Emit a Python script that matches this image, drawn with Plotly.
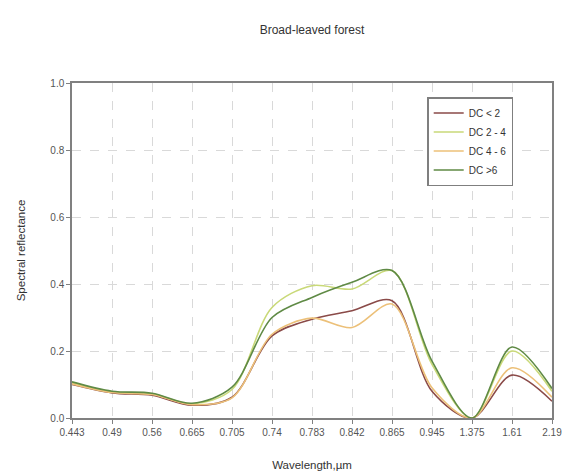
import plotly.graph_objects as go

wavelengths = ["0.443", "0.49", "0.56", "0.665", "0.705", "0.74", "0.783", "0.842", "0.865", "0.945", "1.375", "1.61", "2.19"]
dc_lt2 = [0.100, 0.075, 0.068, 0.038, 0.062, 0.245, 0.295, 0.320, 0.350, 0.080, 0.0, 0.128, 0.050]
dc_2_4 = [0.105, 0.078, 0.072, 0.042, 0.085, 0.330, 0.395, 0.385, 0.440, 0.160, 0.0, 0.200, 0.080]
dc_4_6 = [0.102, 0.076, 0.070, 0.040, 0.060, 0.250, 0.298, 0.270, 0.340, 0.090, 0.0, 0.150, 0.062]
dc_gt6 = [0.108, 0.080, 0.074, 0.044, 0.092, 0.300, 0.360, 0.405, 0.440, 0.170, 0.0, 0.212, 0.088]

series_names = ["DC < 2", "DC 2 - 4", "DC 4 - 6", "DC >6"]
series_values = [dc_lt2, dc_2_4, dc_4_6, dc_gt6]
colors = ["#8a4a48", "#c9d978", "#ecc079", "#5f8a45"]

fig = go.Figure()
for name, vals, c in zip(series_names, series_values, colors):
    fig.add_trace(go.Scatter(
        x=wavelengths, y=vals, mode="lines", name=name,
        line=dict(color=c, width=1.6, shape="spline", smoothing=0.9),
    ))

axis_common = dict(
    showline=True, linecolor="#808080", linewidth=1.5, mirror=True,
    showgrid=True, gridcolor="#d9d9d9", griddash="dash", gridwidth=1,
    ticks="outside", ticklen=4, tickcolor="#808080",
    tickfont=dict(family="Liberation Sans, Arial, sans-serif", size=10, color="#555555"),
    zeroline=False, automargin=False,
)

fig.update_layout(
    width=567, height=474,
    margin=dict(l=72, r=15, t=83, b=56),
    paper_bgcolor="white", plot_bgcolor="white",
    title=dict(text="Broad-leaved forest", x=(312/567), xanchor="center", y=1 - 30/474, yanchor="middle",
               font=dict(family="Liberation Sans, Arial, sans-serif", size=12, color="#333333")),
    xaxis=dict(type="category", range=[0, 12],
               title=dict(text="Wavelength,µm", standoff=24,
                          font=dict(family="Liberation Sans, Arial, sans-serif", size=11.5, color="#333333")),
               **axis_common),
    yaxis=dict(range=[0, 1.0], dtick=0.2, tickformat=".1f",
               title=dict(text="Spectral reflectance", standoff=22,
                          font=dict(family="Liberation Sans, Arial, sans-serif", size=11.5, color="#333333")),
               **axis_common),
    legend=dict(x=0.74, y=0.958, xanchor="left", yanchor="top",
                bordercolor="#7f7f7f", borderwidth=1.5, bgcolor="white",
                font=dict(family="Liberation Sans, Arial, sans-serif", size=10, color="#333333"),
                tracegroupgap=0, itemwidth=30),
    showlegend=True,
)

fig.write_html("out.html", config={"displayModeBar": False},
               post_script="document.body.style.margin='0';document.body.style.overflow='hidden';")
